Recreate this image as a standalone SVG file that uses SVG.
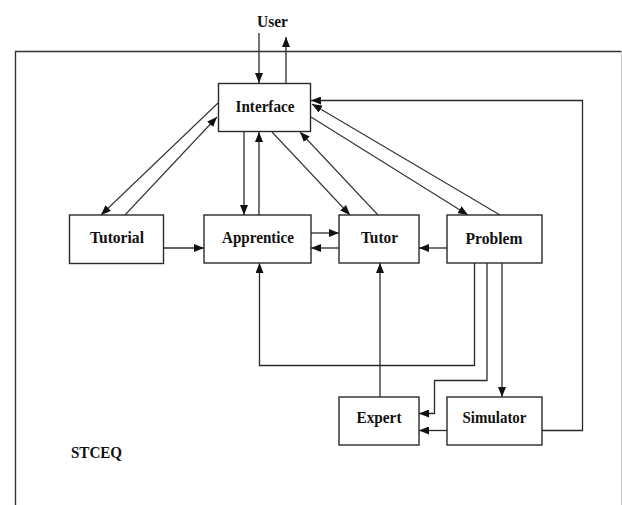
<svg xmlns="http://www.w3.org/2000/svg" width="622" height="505" viewBox="0 0 622 505">
<style>
.box{fill:#fff;stroke:#2a2a2a;stroke-width:1.4}
.lbl{font-family:"Liberation Serif","Times New Roman",serif;font-weight:bold;font-size:16.5px;fill:#111;text-anchor:middle}
.c{fill:none;stroke:#2a2a2a;stroke-width:1.3}
.d{fill:none;stroke:#333;stroke-width:1.1}
</style>
<defs>
<marker id="a" viewBox="0 0 10 8" refX="10" refY="4" markerWidth="10" markerHeight="8" orient="auto" markerUnits="userSpaceOnUse"><path d="M0,0 L10,4 L0,8 z" fill="#111"/></marker>
</defs>
<rect width="622" height="505" fill="#fff"/>
<g id="frame">
<path d="M15.5,505 V51.5 H621.5" fill="none" stroke="#333" stroke-width="1.4"/>
<path d="M621.5,51.5 V505" fill="none" stroke="#ccc" stroke-width="1"/>
</g>
<g id="connectors">
<path class="c" d="M259,33 V83" marker-end="url(#a)"/>
<path class="c" d="M286,83 V37" marker-end="url(#a)"/>
<path class="d" d="M218,103 L101,215" marker-end="url(#a)"/>
<path class="d" d="M125,215 L217,117" marker-end="url(#a)"/>
<path class="c" d="M244,132 V215" marker-end="url(#a)"/>
<path class="c" d="M259,215 V132" marker-end="url(#a)"/>
<path class="d" d="M272,132 L350,215" marker-end="url(#a)"/>
<path class="d" d="M378,215 L300,132" marker-end="url(#a)"/>
<path class="d" d="M311,117 L468,215" marker-end="url(#a)"/>
<path class="d" d="M500,215 L312,104" marker-end="url(#a)"/>
<path class="c" d="M542,430.5 H582.5 V100.5 H311" marker-end="url(#a)"/>
<path class="c" d="M164,248 H204" marker-end="url(#a)"/>
<path class="c" d="M311,233 H339" marker-end="url(#a)"/>
<path class="c" d="M339,248 H311" marker-end="url(#a)"/>
<path class="c" d="M447,248 H419" marker-end="url(#a)"/>
<path class="c" d="M474.5,263 V365.5 H259.5 V263" marker-end="url(#a)"/>
<path class="c" d="M487,263 V380.5 H434.5 V413.5 H419" marker-end="url(#a)"/>
<path class="c" d="M502,263 V397" marker-end="url(#a)"/>
<path class="c" d="M380,397 V263" marker-end="url(#a)"/>
<path class="c" d="M447,430.5 H419" marker-end="url(#a)"/>
</g>
<g id="user"><text class="lbl" x="272.5" y="27" textLength="31" lengthAdjust="spacingAndGlyphs">User</text></g>
<g id="interface"><rect class="box" x="218.5" y="83.5" width="92" height="48"/><text class="lbl" x="265" y="112" textLength="59" lengthAdjust="spacingAndGlyphs">Interface</text></g>
<g id="tutorial"><rect class="box" x="69.5" y="215" width="94" height="48.5"/><text class="lbl" x="117" y="243" textLength="54" lengthAdjust="spacingAndGlyphs">Tutorial</text></g>
<g id="apprentice"><rect class="box" x="204" y="215" width="107" height="48"/><text class="lbl" x="258" y="243" textLength="72" lengthAdjust="spacingAndGlyphs">Apprentice</text></g>
<g id="tutor"><rect class="box" x="339" y="215" width="80" height="48"/><text class="lbl" x="379.5" y="243" textLength="37" lengthAdjust="spacingAndGlyphs">Tutor</text></g>
<g id="problem"><rect class="box" x="447" y="215" width="95" height="48"/><text class="lbl" x="494" y="244" textLength="57" lengthAdjust="spacingAndGlyphs">Problem</text></g>
<g id="expert"><rect class="box" x="339" y="397" width="80" height="48"/><text class="lbl" x="379" y="423" textLength="45" lengthAdjust="spacingAndGlyphs">Expert</text></g>
<g id="simulator"><rect class="box" x="447" y="397" width="95" height="48"/><text class="lbl" x="494.5" y="423" textLength="64" lengthAdjust="spacingAndGlyphs">Simulator</text></g>
<g id="stceq"><text class="lbl" x="71" y="458" style="text-anchor:start" textLength="51" lengthAdjust="spacingAndGlyphs">STCEQ</text></g>
</svg>
